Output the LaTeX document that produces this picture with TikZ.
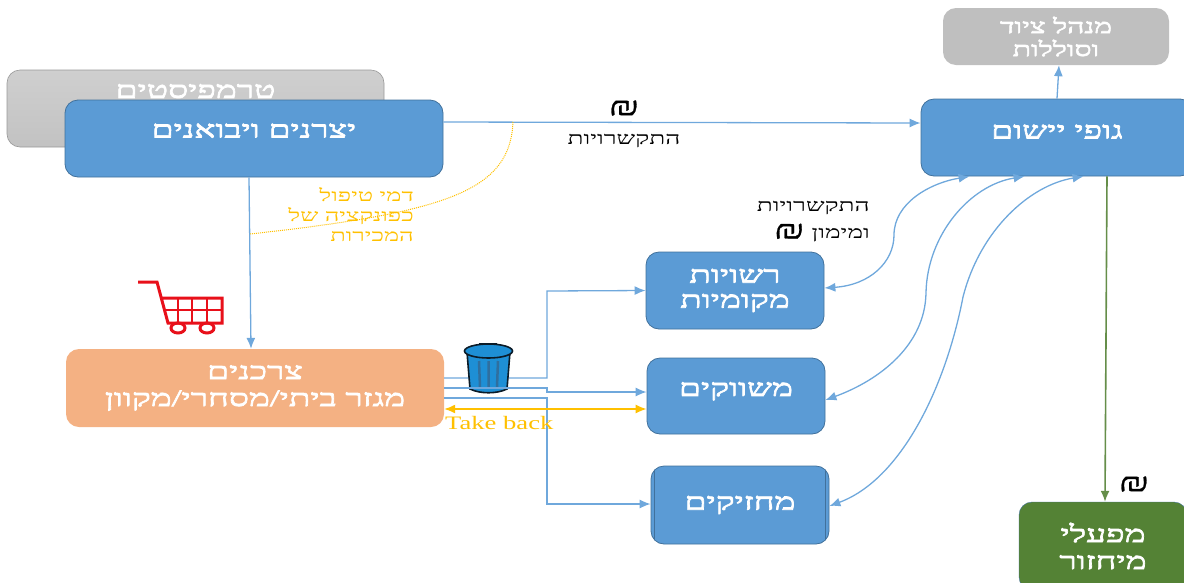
\documentclass[tikz,border=0pt]{standalone}
\usepackage{fontspec}
\usetikzlibrary{arrows.meta,shapes.multipart}
\setmainfont{Liberation Serif}
\newfontfamily\hebfont[Script=Hebrew,FakeStretch=1.5]{Liberation Serif}
\newfontfamily\hebbold[Script=Hebrew,FakeStretch=1.5,FakeBold=3]{Liberation Serif}
\newfontfamily\widefont[FakeStretch=1.4]{Liberation Serif}
\newfontfamily\shekelfont[FakeStretch=2,FakeBold=1]{Liberation Serif}
\TeXXeTstate=1
\newcommand{\heb}[1]{\beginR #1\endR}
\newcommand{\shekel}{{\shekelfont\fontsize{26}{20}\selectfont ₪}}
\definecolor{boxblue}{HTML}{5B9BD5}
\definecolor{edgeblue}{HTML}{41719C}
\definecolor{lineblue}{HTML}{6FA8DC}
\definecolor{boxorange}{HTML}{F4B183}
\definecolor{boxgray}{HTML}{BFBFBF}
\definecolor{boxgreen}{HTML}{548235}
\definecolor{goldline}{HTML}{FFC000}
\definecolor{binblue}{HTML}{1E8FD5}
\definecolor{binrib}{HTML}{2F6F9F}
\definecolor{cartred}{HTML}{E8101A}
\tikzset{
  box/.style={rounded corners=13pt, inner sep=0pt, align=center, text=white,
    font=\hebbold\fontsize{23.5}{25}\selectfont},
  bluebox/.style={box, draw=edgeblue, fill=boxblue, line width=0.8pt},
  link/.style={draw=lineblue, line width=1.3pt, -{Latex[length=11pt,width=9pt]}},
  twoway/.style={draw=lineblue, line width=1.3pt, {Latex[length=11pt,width=9pt]}-{Latex[length=11pt,width=9pt]}},
  note/.style={inner sep=0pt, align=right, font=\hebfont\fontsize{17.5}{27}\selectfont},
  feenote/.style={inner sep=0pt, align=right, text=goldline, font=\hebfont\fontsize{17}{20}\selectfont}
}
\begin{document}
\begin{tikzpicture}[x=1pt,y=-1pt]
  \useasboundingbox (0,0) rectangle (1184,582);

  % back boxes
  \node[box, top color=boxgray!75, bottom color=boxgray!95, draw=boxgray!80!black, line width=0.6pt,
        minimum width=377pt, minimum height=77pt] (tramp) at (195.5,108.5) {\raisebox{35pt}{\heb{טרמפיסטים}}};
  \node[box, fill=boxgray, font=\hebbold\fontsize{20}{23}\selectfont, minimum width=226pt, minimum height=57pt] (menahel) at (1056,36.5)
        {\heb{מנהל ציוד}\\\heb{וסוללות}};

  % main boxes
  \node[bluebox, minimum width=378pt, minimum height=77pt] (yatzran) at (254,138.5) {\raisebox{16pt}{\heb{יצרנים ויבואנים}}};
  \node[bluebox, minimum width=272pt, minimum height=77pt] (gufim) at (1057,137.5) {\raisebox{12pt}{\heb{גופי יישום}}};
  \node[box, fill=boxorange, minimum width=378pt, minimum height=78pt] (tzarchan) at (255,388)
        {\heb{צרכנים}\\[2pt]\heb{מגזר ביתי/מסחרי/מקוון}};
  \node[bluebox, minimum width=178pt, minimum height=77pt] (rashut) at (735,290.5)
        {\heb{רשויות}\\\heb{מקומיות}};
  \node[bluebox, minimum width=178pt, minimum height=76pt] (meshavek) at (736,396) {\raisebox{14pt}{\heb{משווקים}}};
  \node[bluebox, minimum width=178pt, minimum height=78pt] (machzik) at (740,505) {\heb{מחזיקים}};
  \draw[edgeblue, line width=0.8pt, shorten >=4pt, shorten <=4pt] ([xshift=4pt]machzik.north west) -- ([xshift=4pt]machzik.south west);
  \draw[edgeblue, line width=0.8pt, shorten >=4pt, shorten <=4pt] ([xshift=-4pt]machzik.north east) -- ([xshift=-4pt]machzik.south east);
  \node[box, draw=edgeblue, fill=boxgreen, minimum width=168pt, minimum height=88pt] (mifal) at (1103,546)
        {\heb{מפעלי}\\[2pt]\heb{מיחזור}};

  % connectors to the bins
  \draw[link] (tzarchan.east |- 0,378) -- (547,378) -- (547,291) -- (rashut.west);
  \draw[link] (tzarchan.east |- 0,388) -- (547,388) -- (547,392) -- (meshavek.west |- 0,392);
  \draw[link] (tzarchan.east |- 0,398) -- (547,398) -- (547,504) -- (machzik.west |- 0,504);

  % trash bin
  \begin{scope}[draw=black!75!binrib, line width=1.6pt]
    \draw[fill=black!70] (480,344) rectangle (496,349);
    \draw[fill=binblue] (467,352) -- (470,389) .. controls (480,394) and (497,394) .. (507,389) -- (510,352) -- cycle;
    \draw[line width=2.5pt, binrib] (479,361) -- (480,387) (488.5,361) -- (488.5,388) (498,361) -- (497,387);
    \draw[fill=binblue] (488.5,351) ellipse (24pt and 7pt);
  \end{scope}
  \draw[lineblue, line width=1.3pt] (464,388) -- (510,388);

  % flows
  \draw[link] (yatzran.east |- 0,122) -- (gufim.west |- 0,123);
  \draw[link] ([xshift=-5pt]yatzran.south) -- ([xshift=-4pt]tzarchan.north);
  \draw[link] (gufim.north) -- ([xshift=3pt]menahel.south);
  \draw[link, draw=boxgreen!90!white, line width=1.6pt] ([xshift=50pt]gufim.south) -- ([xshift=2pt]mifal.north);
  \draw[twoway] ([yshift=2.5pt]rashut.east) .. controls (870,285) and (894,262) .. (894,235)
        .. controls (894,203) and (930,183) .. ([xshift=49pt]gufim.south west);
  \draw[twoway] ([yshift=-4pt]meshavek.east) .. controls (880,380) and (925,345) .. (926,293)
        .. controls (927,235) and (970,185) .. ([xshift=104pt]gufim.south west);
  \draw[twoway] ([yshift=-1pt]machzik.east) .. controls (900,480) and (945,390) .. (963,297)
        .. controls (980,230) and (1030,185) .. ([xshift=163pt]gufim.south west);
  \draw[goldline, line width=1.4pt, {Latex[length=11pt,width=9pt]}-{Latex[length=11pt,width=9pt]}]
        (tzarchan.east |- 0,409) -- (meshavek.west |- 0,409);
  \coordinate (feestart) at (513,122);
  \coordinate (feeend) at (250,234);
  \draw[goldline, line width=1pt, densely dotted] (feestart) .. controls (510,190) and (450,212) .. (feeend);

  % cart
  \begin{scope}[cartred, line width=3pt]
    \draw (138,282) -- (157,282) -- (168,323) -- (222,323) -- (222,298) -- (162,298);
    \draw[line width=2.4pt] (165,310) -- (222,310) (178,298) -- (178,323) (192,298) -- (192,323) (207,298) -- (207,323);
    \draw (178,328) ellipse (7pt and 5pt) (207,328) ellipse (7pt and 5pt);
  \end{scope}

  % labels
  \node[feenote, anchor=north east] (dmei) at (414,187)
        {\heb{דמי טיפול}\\\heb{כפונקציה של}\\\heb{המכירות}};
  \node[inner sep=0pt, text=goldline, font=\widefont\fontsize{19}{22}\selectfont, anchor=west] (takeback) at (445,423) {Take back};
  \node[note] (shekelone) at (624,108) {\shekel};
  \node[note] (kesher) at (624,141) {\heb{התקשרויות}};
  \node[note, anchor=north east] (kesherb) at (870,201) {\heb{התקשרויות}\\\heb{ומימון \shekel}};
  \node[note] (shekeltwo) at (1134,484) {\shekel};
\end{tikzpicture}
\end{document}
